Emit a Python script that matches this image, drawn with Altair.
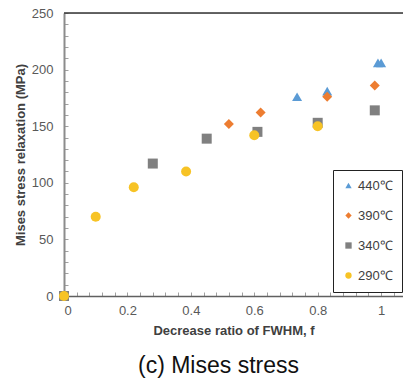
import altair as alt
import pandas as pd

series = ["440℃", "390℃", "340℃", "290℃"]
colors = ["#5B9BD5", "#ED7D31", "#808080", "#F7C325"]
shapes = ["triangle-up", "diamond", "square", "circle"]

f_440 = [0, 0.735, 0.83, 0.99, 1.0]
s_440 = [0, 176, 181, 206, 206]
f_390 = [0, 0.52, 0.62, 0.83, 0.98]
s_390 = [0, 152, 162, 176, 186]
f_340 = [0, 0.28, 0.45, 0.61, 0.80, 0.98]
s_340 = [0, 117, 139, 145, 153, 164]
f_290 = [0, 0.10, 0.22, 0.385, 0.60, 0.80]
s_290 = [0, 70, 96, 110, 142, 150]

x_labels = [0, 0.2, 0.4, 0.6, 0.8, 1]
x_minor = [0, 0.04, 0.08, 0.12, 0.16, 0.2, 0.24, 0.28, 0.32, 0.36, 0.4, 0.44,
           0.48, 0.52, 0.56, 0.6, 0.64, 0.68, 0.72, 0.76, 0.8, 0.84, 0.88,
           0.92, 0.96, 1.0, 1.04]
y_labels = [0, 50, 100, 150, 200, 250]
y_minor = [0, 10, 20, 30, 40, 50, 60, 70, 80, 90, 100, 110, 120, 130, 140, 150,
           160, 170, 180, 190, 200, 210, 220, 230, 240, 250]

rows = []
for name, fs, ss in zip(series, [f_440, f_390, f_340, f_290],
                        [s_440, s_390, s_340, s_290]):
    for a, b in zip(fs, ss):
        rows.append({"f": a, "s": b, "T": name})
df = pd.DataFrame(rows)

W, H = 339, 283
FONT = "Liberation Sans"
xs = alt.Scale(domain=[0, 1.069], nice=False, zero=False)
ys = alt.Scale(domain=[0, 250], nice=False)

leg = alt.Legend(
    title=None, orient="none", legendX=269, legendY=157,
    strokeColor="#222222", fillColor="white", padding=9,
    symbolSize=40, symbolStrokeWidth=0, labelFont=FONT, labelFontSize=13,
    labelColor="#404040", labelOffset=3, rowPadding=16,
)

points = alt.Chart(df).mark_point(filled=True, opacity=1, size=100).encode(
    x=alt.X("f:Q", scale=xs, axis=alt.Axis(
        orient="bottom",
        values=x_labels, format="~g", title="Decrease ratio of FWHM, f",
        ticks=False, grid=False, domainColor="#606060", domainWidth=1.5,
        labelFont=FONT, labelFontSize=13, labelColor="#595959", labelPadding=8,
        titleFont=FONT, titleFontSize=13, titleFontWeight="bold",
        titleColor="#404040", titlePadding=7)),
    y=alt.Y("s:Q", scale=ys, axis=alt.Axis(
        orient="left",
        values=y_labels, title="Mises stress relaxation (MPa)",
        ticks=False, grid=False, domainColor="#8C8C8C", domainWidth=2,
        labelFont=FONT, labelFontSize=13, labelColor="#595959", labelPadding=11,
        titleFont=FONT, titleFontSize=13, titleFontWeight="bold",
        titleColor="#404040", titlePadding=4)),
    color=alt.Color("T:N", scale=alt.Scale(domain=series, range=colors), legend=leg),
    shape=alt.Shape("T:N", scale=alt.Scale(domain=series, range=shapes), legend=leg),
)

minor = alt.Chart(df).mark_point(opacity=0).encode(
    x=alt.X("f:Q", scale=xs, axis=alt.Axis(
        orient="bottom", offset=-4, values=x_minor, labels=False, domain=False,
        ticks=True, tickSize=4, tickColor="#A0A0A0", tickWidth=1,
        title=None, grid=False)),
    y=alt.Y("s:Q", scale=ys, axis=alt.Axis(
        orient="left", offset=-4, values=y_minor, labels=False, domain=False,
        ticks=True, tickSize=4, tickColor="#A0A0A0", tickWidth=1,
        title=None, grid=False)),
)

top = alt.Chart(pd.DataFrame({"a": [0]})).mark_rule(
    color="#333333", strokeWidth=1.5
).encode(x=alt.value(0), x2=alt.value(W), y=alt.value(0))

chart = alt.layer(minor, top, points).resolve_axis(
    x="independent", y="independent"
).properties(
    width=W, height=H,
    autosize=alt.AutoSizeParams(type="none"),
    padding={"left": 64, "top": 13, "right": 0, "bottom": 82},
    title=alt.TitleParams(
        "(c) Mises stress", orient="bottom", anchor="middle", dx=-15,
        font=FONT, fontSize=23, fontWeight="normal", color="#111111", offset=18),
).configure_view(stroke=None).configure(background="white")

chart.save("out.html", embed_options={"renderer": "svg", "actions": False})
